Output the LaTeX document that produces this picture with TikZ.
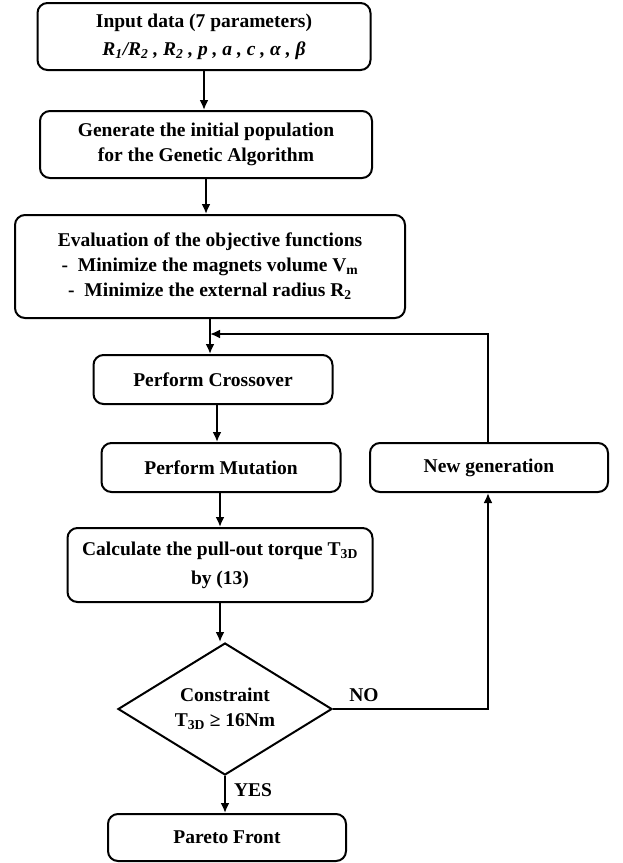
\documentclass[tikz,border=0pt]{standalone}
\usepackage{fontspec}
\setmainfont{Liberation Serif}
\usetikzlibrary{shapes.geometric,arrows.meta}
\tikzstyle{stepbox}=[draw=black, line width=2pt, rounded corners=10pt, inner sep=0pt, align=center, font=\fontsize{19.5}{25}\selectfont\bfseries]
\tikzstyle{decision}=[draw=black, line width=2pt, diamond, aspect=1.6, inner sep=0pt, align=center, font=\fontsize{19.5}{25}\selectfont\bfseries]
\tikzstyle{flow}=[draw=black, line width=2pt, -{Latex[length=10pt,width=9pt]}]
\tikzstyle{answer}=[font=\fontsize{19.5}{22}\selectfont\bfseries]
\begin{document}
\begin{tikzpicture}[x=1pt,y=-1pt]
\useasboundingbox (0,0) rectangle (622,863);
\node [stepbox, minimum width=333pt, minimum height=67pt, font=\fontsize{19.5}{28}\selectfont\bfseries] (input) at (204,36.5) {Input data (7 parameters)\\ \textit{R\textsubscript{1}/R\textsubscript{2} , R\textsubscript{2} , p , a , c , α , β}};
\node [stepbox, minimum width=332pt, minimum height=67pt] (init) at (206,144.5) {Generate the initial population\\for the Genetic Algorithm};
\node [stepbox, minimum width=390pt, minimum height=103pt] (eval) at (210,266.5) {Evaluation of the objective functions\\-\ \ Minimize the magnets volume V\textsubscript{m}\\-\ \ Minimize the external radius R\textsubscript{2}};
\node [stepbox, minimum width=239pt, minimum height=49pt] (cross) at (213,379.5) {Perform Crossover};
\node [stepbox, minimum width=239pt, minimum height=49pt] (mut) at (221,467.5) {Perform Mutation};
\node [stepbox, minimum width=238pt, minimum height=49pt] (newgen) at (489,467.5) {New generation};
\node [stepbox, minimum width=305pt, minimum height=74pt, font=\fontsize{19.5}{29}\selectfont\bfseries] (calc) at (220,565) {Calculate the pull-out torque T\textsubscript{3D}\\by (13)};
\node [decision, minimum width=214pt, minimum height=132pt] (constr) at (225,709) {Constraint\\T\textsubscript{3D} ≥ 16Nm};
\node [stepbox, minimum width=238pt, minimum height=47pt] (pareto) at (227,837.5) {Pareto Front};
\coordinate (loop) at (488,334);
\draw [flow] (input.south) -- (input.south |- init.north);
\draw [flow] (init.south) -- (init.south |- eval.north);
\draw [flow] (eval.south) -- (eval.south |- cross.north);
\draw [flow] (cross.south -| 217,0) -- (217,0 |- mut.north);
\draw [flow] (mut.south -| calc.north) -- (calc.north);
\draw [flow] (calc.south) -- (calc.south |- constr.north);
\draw [flow] (constr.south) -- (constr.south |- pareto.north);
\draw [flow] (newgen.north -| loop) -- (loop) -- (eval.south |- loop);
\draw [flow] (constr.east) -- (constr.east -| loop) -- (newgen.south -| loop);
\node [answer] (no) at (364,695) {NO};
\node [answer] (yes) at (253,790) {YES};
\end{tikzpicture}
\end{document}
